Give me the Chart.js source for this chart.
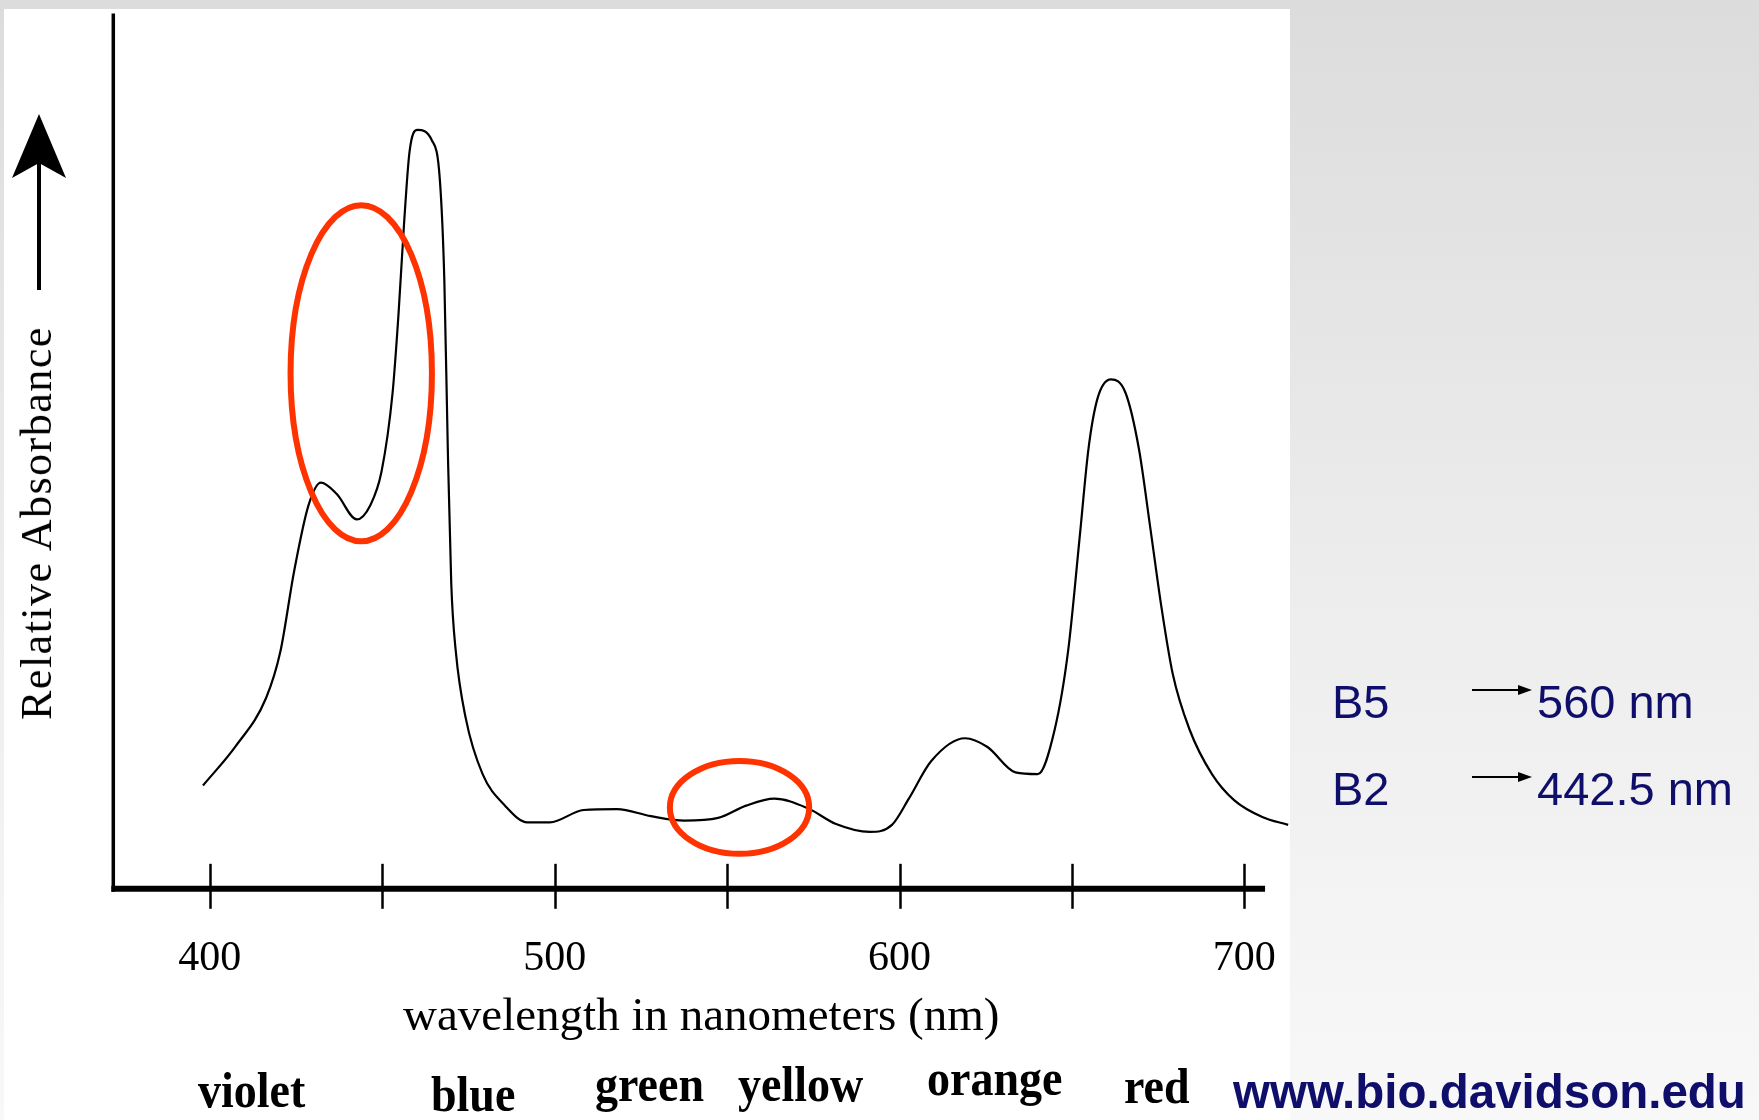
<!DOCTYPE html>
<html>
<head>
<meta charset="utf-8">
<script src="https://cdn.jsdelivr.net/npm/chart.js@4"></script>
<style>
  html, body { margin: 0; padding: 0; }
  body {
    width: 1759px; height: 1120px; overflow: hidden; position: relative;
    background: linear-gradient(to bottom, #dcdcdc 0%, #ececec 50%, #f8f8f8 100%);
  }
  #panel { position: absolute; left: 4px; top: 9px; width: 1286px; height: 1111px; background: #fff; }
  #wrap { position: absolute; left: 0; top: 0; width: 1759px; height: 1120px; }
  .lbl { position: absolute; white-space: nowrap; line-height: 1; }
  .serif { font-family: "Liberation Serif", "DejaVu Serif", serif; color: #000; }
  .band { font-weight: bold; font-size: 46px; transform: scaleY(1.12); transform-origin: left bottom; }
  .navy { font-family: "Liberation Sans", Arial, sans-serif; color: #0f0f6b; }
  #ytitle { left: 37px; top: 523px; font-size: 44px; letter-spacing: 1.5px;
            transform: translate(-50%, -50%) rotate(-90deg); }
</style>
</head>
<body>
<div id="panel"></div>
<div id="wrap"><canvas id="specChart" width="1759" height="1120"></canvas></div>

<div id="ytitle" class="lbl serif">Relative Absorbance</div>

<div class="lbl serif band" style="left:198px; top:1070px;">violet</div>
<div class="lbl serif band" style="left:431px; top:1074px;">blue</div>
<div class="lbl serif band" style="left:595px; top:1064px;">green</div>
<div class="lbl serif band" style="left:738px; top:1064px;">yellow</div>
<div class="lbl serif band" style="left:927px; top:1058px;">orange</div>
<div class="lbl serif band" style="left:1124px; top:1066px;">red</div>

<div class="lbl navy" style="left:1332px; top:678px; font-size:47px;">B5</div>
<div class="lbl navy" style="left:1537px; top:678px; font-size:47px;">560 nm</div>
<div class="lbl navy" style="left:1332px; top:765px; font-size:47px;">B2</div>
<div class="lbl navy" style="left:1537px; top:765px; font-size:47px;">442.5 nm</div>
<div class="lbl navy" style="left:1233px; top:1068px; font-size:47.5px; font-weight:bold;">www.bio.davidson.edu</div>

<script>
// absorption spectrum (nm, relative absorbance 0..1)
var wavelengths = [398.0, 407.5, 416.3, 420.5, 424.4, 428.6, 432.2, 436.8, 442.6, 446.5,
                   449.8, 453.0, 454.7, 456.3, 457.9, 460.2, 464.4, 466.7, 468.0, 469.0,
                   470.0, 471.3, 474.2, 479.1, 485.6, 492.1, 498.6, 508.4, 518.1, 527.9,
                   537.6, 547.4, 555.5, 563.7, 573.4, 581.6, 591.3, 597.8, 602.7, 609.2,
                   619.0, 625.5, 633.6, 640.1, 645.0, 648.9, 652.2, 654.8, 657.4, 661.3,
                   665.5, 669.4, 672.7, 675.9, 679.2, 684.1, 690.6, 697.1, 705.2, 712.7];
var absorbance = [0.118, 0.163, 0.218, 0.272, 0.362, 0.438, 0.464, 0.451, 0.422, 0.438,
                  0.477, 0.567, 0.656, 0.759, 0.842, 0.867, 0.855, 0.810, 0.695, 0.503,
                  0.349, 0.272, 0.195, 0.131, 0.095, 0.076, 0.076, 0.090, 0.091, 0.083,
                  0.078, 0.081, 0.095, 0.103, 0.092, 0.074, 0.065, 0.073, 0.103, 0.146,
                  0.172, 0.162, 0.133, 0.131, 0.182, 0.272, 0.400, 0.503, 0.560, 0.582,
                  0.567, 0.503, 0.413, 0.323, 0.246, 0.182, 0.131, 0.101, 0.082, 0.073];

var tickLabels = [400, 500, 600, 700];
var tickMarks = [400, 450, 500, 550, 600, 650, 700];

// circled regions: centre and half-size in data units
var circleCx = [443.9, 553.6];
var circleCy = [0.589, 0.093];
var circleRx = [20.5, 20.2];
var circleRy = [0.192, 0.053];

var points = wavelengths.map(function (w, i) { return { x: w, y: absorbance[i] }; });

var axisPlugin = {
    id: 'axisPlugin',
    beforeDatasetsDraw: function (chart) {
        var ctx = chart.ctx, xs = chart.scales.x, ys = chart.scales.y;
        var x0 = xs.getPixelForValue(372), x1 = xs.getPixelForValue(706);
        var yb = ys.getPixelForValue(0), yt = ys.getPixelForValue(1);
        ctx.save();
        ctx.strokeStyle = '#000';
        ctx.lineCap = 'butt';
        // vertical axis
        ctx.lineWidth = 3.5;
        ctx.beginPath(); ctx.moveTo(x0, yt); ctx.lineTo(x0, yb + 3); ctx.stroke();
        // horizontal axis
        ctx.lineWidth = 6;
        ctx.beginPath(); ctx.moveTo(x0 - 2, yb); ctx.lineTo(x1, yb); ctx.stroke();
        // tick marks cross the axis
        ctx.lineWidth = 2.5;
        tickMarks.forEach(function (v) {
            var px = Math.round(xs.getPixelForValue(v)) + 0.5;
            ctx.beginPath(); ctx.moveTo(px, yb - 25); ctx.lineTo(px, yb + 20); ctx.stroke();
        });
        // arrow next to the y title
        ctx.lineWidth = 4;
        ctx.beginPath(); ctx.moveTo(39, 290); ctx.lineTo(39, 160); ctx.stroke();
        ctx.fillStyle = '#000';
        ctx.beginPath();
        ctx.moveTo(39, 114); ctx.lineTo(66, 178); ctx.lineTo(39, 163);
        ctx.lineTo(12, 178); ctx.closePath(); ctx.fill();
        ctx.restore();
    },
    afterDatasetsDraw: function (chart) {
        var ctx = chart.ctx, xs = chart.scales.x, ys = chart.scales.y;
        ctx.save();
        ctx.strokeStyle = '#ff3300';
        ctx.lineWidth = 6;
        circleCx.forEach(function (cx, i) {
            var px = xs.getPixelForValue(cx), py = ys.getPixelForValue(circleCy[i]);
            var rx = xs.getPixelForValue(cx + circleRx[i]) - px;
            var ry = py - ys.getPixelForValue(circleCy[i] + circleRy[i]);
            ctx.beginPath(); ctx.ellipse(px, py, rx, ry, 0, 0, Math.PI * 2); ctx.stroke();
        });
        // small arrows B5 / B2
        ctx.strokeStyle = '#000'; ctx.fillStyle = '#000'; ctx.lineWidth = 2;
        [690, 777].forEach(function (ay) {
            ctx.beginPath(); ctx.moveTo(1472, ay); ctx.lineTo(1522, ay); ctx.stroke();
            ctx.beginPath(); ctx.moveTo(1532, ay); ctx.lineTo(1518, ay - 5); ctx.lineTo(1518, ay + 5);
            ctx.closePath(); ctx.fill();
        });
        ctx.restore();
    }
};

var ctx = document.getElementById('specChart').getContext('2d');
new Chart(ctx, {
    type: 'line',
    data: {
        datasets: [{
            data: points,
            borderColor: '#000',
            borderWidth: 2.2,
            pointRadius: 0,
            fill: false,
            cubicInterpolationMode: 'monotone'
        }]
    },
    options: {
        responsive: false,
        animation: false,
        layout: { padding: { left: 113.3, right: 469.8, top: 13.5, bottom: 0 } },
        plugins: { legend: { display: false }, tooltip: { enabled: false } },
        scales: {
            x: {
                type: 'linear',
                min: 372,
                max: 713,
                afterBuildTicks: function (axis) {
                    axis.ticks = tickLabels.map(function (v) { return { value: v }; });
                },
                afterFit: function (scale) { scale.height = 231.2; },
                grid: { display: false, drawTicks: false },
                border: { display: false },
                ticks: {
                    padding: 45,
                    color: '#000',
                    maxRotation: 0,
                    autoSkip: false,
                    font: { family: 'Liberation Serif', size: 42 }
                },
                title: {
                    display: true,
                    text: 'wavelength in nanometers (nm)',
                    color: '#000',
                    font: { family: 'Liberation Serif', size: 47 },
                    padding: { top: 0, bottom: 74 }
                }
            },
            y: { display: false, min: 0, max: 1 }
        }
    },
    plugins: [axisPlugin]
});
</script>
</body>
</html>
